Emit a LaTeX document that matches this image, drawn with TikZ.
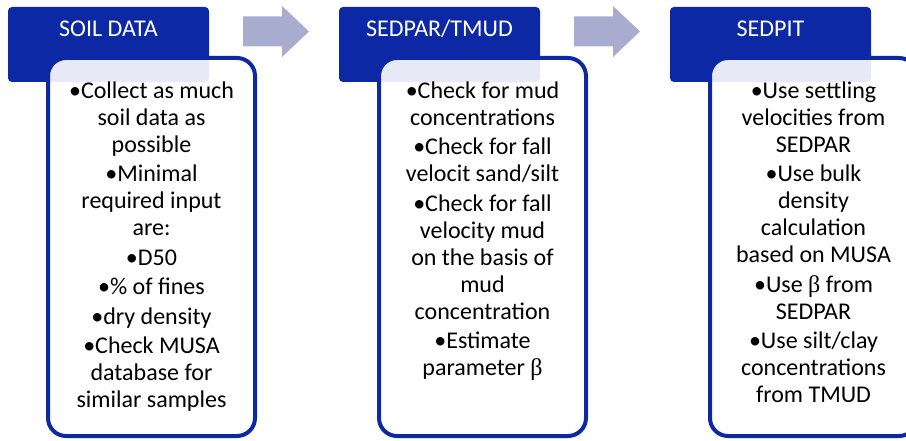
\documentclass[tikz,border=0pt]{standalone}
\usepackage{fontspec}
\setmainfont{Carlito}
\newfontfamily\betafont{Liberation Serif}
\definecolor{hdrblue}{RGB}{12,40,165}
\definecolor{arrowgray}{RGB}{168,172,207}
\newcommand{\firstline}{\rule{0pt}{20pt}}
\newcommand{\betachar}{{\betafont β}}
\begin{document}
\begin{tikzpicture}[x=1pt,y=-1pt,
  header/.style={draw=none, fill=hdrblue, rounded corners=4pt, minimum width=201pt,
    minimum height=75pt, inner sep=0pt, outer sep=0pt, anchor=north west},
  panel/.style={draw=hdrblue, line width=4pt, fill=white, fill opacity=0.9,
    rounded corners=18pt, minimum width=207pt, minimum height=378pt,
    inner sep=0pt, outer sep=0pt, anchor=north west},
  htext/.style={text=white, anchor=base, inner sep=0pt, font=\fontsize{24}{27}\selectfont},
  btext/.style={text=black, anchor=north, inner sep=0pt, align=center,
    font=\fontsize{24}{27}\selectfont},
  flowarrow/.style={fill=arrowgray, draw=none}
]
\useasboundingbox (0,0) rectangle (906,441);
\clip (0,0) rectangle (906,441);

% block arrows between the steps
\coordinate (a1) at (243,31.5);
\coordinate (a2) at (574,31.5);
\foreach \a in {a1,a2}{
  \fill[flowarrow] ([yshift=15pt]\a) -- ++(39,0) -- ++(0,-10.5) -- ++(27,25.5)
    -- ++(-27,25.5) -- ++(0,-10.5) -- ++(-39,0) -- cycle;
}

% headers
\node[header] (h1) at (8,7) {};
\node[header] (h2) at (339,7) {};
\node[header] (h3) at (670,7) {};

% panels
\node[panel] (p1) at (48,58) {};
\node[panel] (p2) at (379,58) {};
\node[panel] (p3) at (710,58) {};

% header texts
\node[htext] (h1t) at (108.5,36.7) {SOIL DATA};
\node[htext] (h2t) at (439.5,36.7) {SEDPAR/TMUD};
\node[htext] (h3t) at (770.5,36.7) {SEDPIT};

% body texts
\node[btext] (t1) at (151.5,78) {\firstline•Collect as much\\
soil data as\\
possible\\[2.5pt]
•Minimal\\
required input\\
are:\\[2.5pt]
•D50\\[2.5pt]
•\% of fines\\[2.5pt]
•dry density\\[2.5pt]
•Check MUSA\\
database for\\
similar samples};

\node[btext] (t2) at (482.5,78) {\firstline•Check for mud\\
concentrations\\[2.5pt]
•Check for fall\\
velocit sand/silt\\[2.5pt]
•Check for fall\\
velocity mud\\
on the basis of\\
mud\\
concentration\\[2.5pt]
•Estimate\\
parameter \betachar};

\node[btext] (t3) at (813.5,78) {\firstline•Use settling\\
velocities from\\
SEDPAR\\[2.5pt]
•Use bulk\\
density\\
calculation\\
based on MUSA\\[2.5pt]
•Use \betachar{} from\\
SEDPAR\\[2.5pt]
•Use silt/clay\\
concentrations\\
from TMUD};
\end{tikzpicture}
\end{document}
